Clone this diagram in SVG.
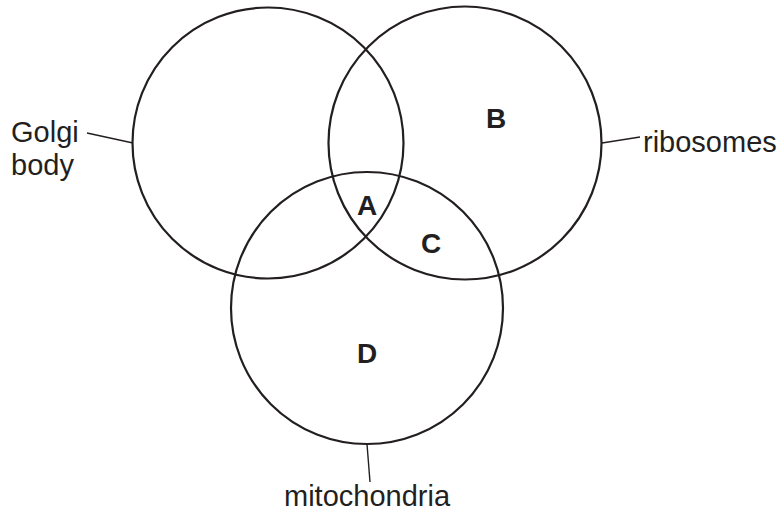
<svg xmlns="http://www.w3.org/2000/svg" width="784" height="513" viewBox="0 0 784 513">
<style>
.c{fill:none;stroke:#231f20;stroke-width:2.2}
.l{fill:none;stroke:#231f20;stroke-width:1.4}
.t{font-family:"Liberation Sans",Arial,sans-serif;font-size:29px;fill:#231f20}
.b{font-family:"Liberation Sans",Arial,sans-serif;font-size:28px;font-weight:bold;fill:#231f20;text-anchor:middle}
</style>
<rect width="784" height="513" fill="#fff"/>
<g id="golgi">
<circle class="c" cx="268" cy="143" r="135.5"/>
<text class="t" x="11" y="142">Golgi</text>
<text class="t" x="11" y="175">body</text>
</g>
<g id="ribosomes">
<circle class="c" cx="465" cy="143" r="136.5"/>
<text class="t" x="643" y="152">ribosomes</text>
</g>
<g id="mitochondria">
<circle class="c" cx="367" cy="308" r="136"/>
<text class="t" x="284" y="506">mitochondria</text>
</g>
<g id="regions">
<text class="b" x="367" y="215">A</text>
<text class="b" x="496" y="128">B</text>
<text class="b" x="431" y="253">C</text>
<text class="b" x="367" y="363">D</text>
</g>
<g id="connectors">
<line class="l" x1="87" y1="133" x2="133" y2="143"/>
<line class="l" x1="602" y1="143" x2="640" y2="137"/>
<line class="l" x1="367" y1="444" x2="370" y2="482"/>
</g>
</svg>
